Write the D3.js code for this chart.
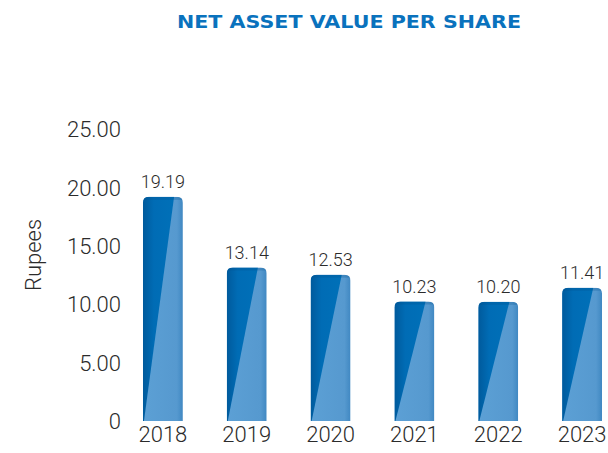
<!DOCTYPE html>
<html><head><meta charset="utf-8">
<script src="https://cdn.jsdelivr.net/npm/d3@7"></script>
<style>
body{margin:0;background:#fff;}
svg{display:block;}
</style></head>
<body>
<svg id="chart" width="608" height="453"></svg>
<script>
const years = ["2018","2019","2020","2021","2022","2023"];
const values = [19.19, 13.14, 12.53, 10.23, 10.20, 11.41];
const yTicks = [0, 5, 10, 15, 20, 25];
const title = "NET ASSET VALUE PER SHARE";
const yLabel = "Rupees";

const svg = d3.select("#chart");
const FONT = "Roboto, 'Liberation Sans', Arial, sans-serif";
const x = d3.scaleBand().domain(years).range([121, 624]).paddingInner(0.524).paddingOuter(0.262);
const y = d3.scaleLinear().domain([0, 25]).range([421, 129]);

const defs = svg.append("defs");
const gDark = defs.append("linearGradient").attr("id","gDark").attr("x1","0").attr("x2","1").attr("y1","0").attr("y2","0");
gDark.append("stop").attr("offset","0").attr("stop-color","#005a9c");
gDark.append("stop").attr("offset","0.35").attr("stop-color","#006cb5");
gDark.append("stop").attr("offset","1").attr("stop-color","#0070b8");
const gLight = defs.append("linearGradient").attr("id","gLight").attr("x1","0").attr("x2","1").attr("y1","0").attr("y2","0");
gLight.append("stop").attr("offset","0").attr("stop-color","#5ca0d5");
gLight.append("stop").attr("offset","0.85").attr("stop-color","#5699cf");
gLight.append("stop").attr("offset","1").attr("stop-color","#4088c2");

// title
svg.append("text").attr("x", 349).attr("y", 28).attr("text-anchor","middle")
  .attr("font-family","'DejaVu Sans', sans-serif").attr("font-weight", 700)
  .attr("font-size", 18).attr("fill","#0a72bd")
  .attr("textLength", 344).attr("lengthAdjust","spacingAndGlyphs").text(title);

// y axis
const yAxis = d3.axisLeft(y).tickValues(yTicks).tickSize(0).tickPadding(0)
  .tickFormat(d => d === 0 ? "0" : d3.format(".2f")(d));
const ga = svg.append("g").attr("transform","translate(121,0)").call(yAxis);
ga.select(".domain").remove();
ga.selectAll("text").attr("font-family", FONT).attr("font-weight", 300)
  .attr("font-size", 22).attr("fill","#2b2b2b").attr("dy","0.35em");

svg.append("text").attr("transform","translate(41,255) rotate(-90)").attr("text-anchor","middle")
  .attr("font-family", FONT).attr("font-weight", 300).attr("font-size", 22).attr("fill","#2b2b2b").text(yLabel);

// x labels
const gx = svg.append("g").attr("transform","translate(0,421)")
  .call(d3.axisBottom(x).tickSize(0).tickPadding(0));
gx.select(".domain").remove();
gx.selectAll("text").attr("font-family", FONT).attr("font-weight", 300)
  .attr("font-size", 22).attr("fill","#2b2b2b").attr("dy","0.95em");

// bars
const bw = x.bandwidth();
const r = 6;
const bars = svg.append("g").selectAll("g").data(years.map((d,i)=>({year:d, v:values[i]}))).join("g");
bars.each(function(d, i){
  const g = d3.select(this);
  const x0 = x(d.year), x1 = x0 + bw, y0 = y(d.v), yb = y(0);
  const id = "clip" + i;
  defs.append("clipPath").attr("id", id).append("path")
    .attr("d", `M${x0},${yb}V${y0+r}Q${x0},${y0} ${x0+r},${y0}H${x1-r}Q${x1},${y0} ${x1},${y0+r}V${yb}Z`);
  const c = g.append("g").attr("clip-path", `url(#${id})`);
  c.append("rect").attr("x", x0).attr("y", y0).attr("width", bw).attr("height", yb - y0).attr("fill","url(#gLight)");
  c.append("path").attr("d", `M${x0},${y0}H${x0 + bw*0.78}L${x0+1},${yb}H${x0}Z`).attr("fill","url(#gDark)");
  c.append("rect").attr("x", x0).attr("y", y0).attr("width", bw).attr("height", 3).attr("fill","#004f8c").attr("opacity",0.25);
  g.append("text").attr("x", x0 + bw/2).attr("y", y0 - 9).attr("text-anchor","middle")
    .attr("font-family", FONT).attr("font-weight", 300).attr("font-size", 18).attr("fill","#2b2b2b")
    .text(d3.format(".2f")(d.v));
});
</script>
</body></html>
